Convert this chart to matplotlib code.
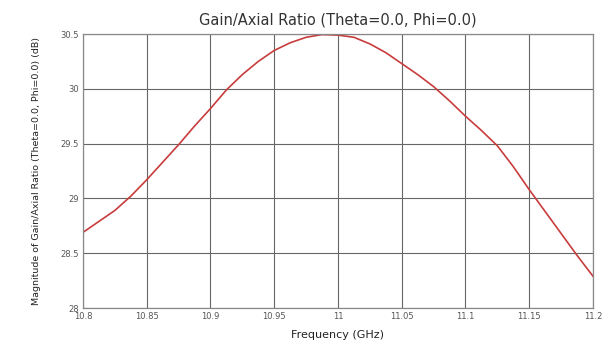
import matplotlib
matplotlib.use("Agg")
import matplotlib.pyplot as plt

freq = [10.8, 10.8125, 10.825, 10.8375, 10.85, 10.8625, 10.875, 10.8875, 10.9,
        10.9125, 10.925, 10.9375, 10.95, 10.9625, 10.975, 10.9875, 11.0,
        11.0125, 11.025, 11.0375, 11.05, 11.0625, 11.075, 11.0875, 11.1,
        11.1125, 11.125, 11.1375, 11.15, 11.1625, 11.175, 11.1875, 11.2]
gain = [28.69, 28.79, 28.89, 29.02, 29.17, 29.33, 29.49, 29.66, 29.82,
        29.99, 30.13, 30.25, 30.35, 30.42, 30.47, 30.495, 30.49,
        30.47, 30.41, 30.33, 30.23, 30.13, 30.02, 29.89, 29.75,
        29.62, 29.48, 29.29, 29.08, 28.88, 28.68, 28.48, 28.29]
xticks = [10.8, 10.85, 10.9, 10.95, 11.0, 11.05, 11.1, 11.15, 11.2]
xlabels = ["10.8", "10.85", "10.9", "10.95", "11", "11.05", "11.1", "11.15", "11.2"]
yticks = [28, 28.5, 29, 29.5, 30, 30.5]
ylabels = ["28", "28.5", "29", "29.5", "30", "30.5"]

plt.rcParams['font.family'] = ['DejaVu Sans']
fig = plt.figure(figsize=(6.03, 3.46), dpi=100)
ax = fig.add_axes([0.1376, 0.1098, 0.8458, 0.7919])
ax.plot(freq, gain, color="#c83c3c", linewidth=1.2)
ax.set_xlim(10.8, 11.2)
ax.set_ylim(28, 30.5)
ax.set_xticks(xticks)
ax.set_xticklabels(xlabels)
ax.set_yticks(yticks)
ax.set_yticklabels(ylabels)
ax.grid(True, color="#666666", linewidth=0.8)
ax.tick_params(length=0, labelsize=6, colors="#555555", pad=3)
for s in ax.spines.values():
    s.set_color("#888888")
    s.set_linewidth(0.9)
ax.set_title("Gain/Axial Ratio (Theta=0.0, Phi=0.0)", fontsize=10.5, color="#333333", pad=7)
ax.set_xlabel("Frequency (GHz)", fontsize=8, color="#222222", labelpad=6)
ax.set_ylabel("Magnitude of Gain/Axial Ratio (Theta=0.0, Phi=0.0) (dB)", fontsize=6.8,
              color="#222222", labelpad=14)
fig.savefig("out.png", dpi=100)
